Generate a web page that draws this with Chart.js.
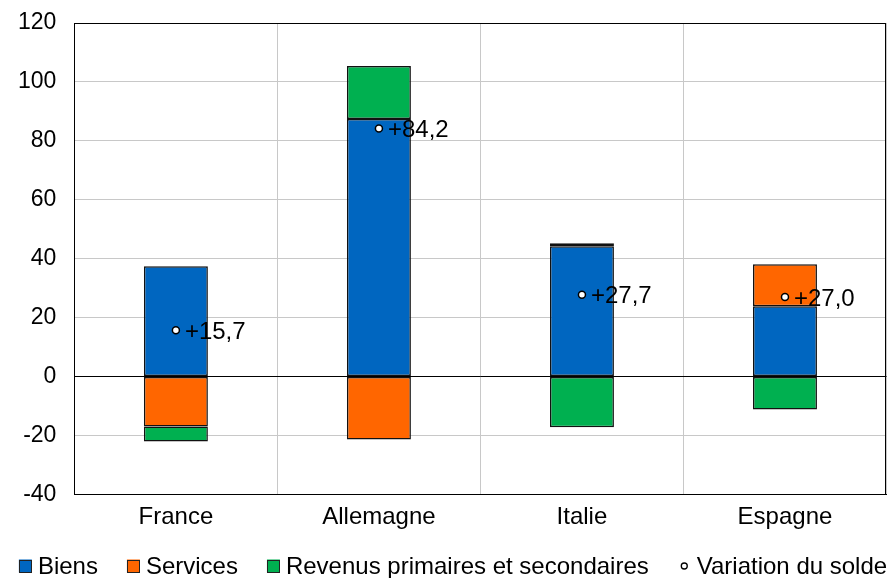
<!DOCTYPE html>
<html><head><meta charset="utf-8">
<script src="https://cdn.jsdelivr.net/npm/chart.js@4/dist/chart.umd.min.js"></script>
<style>html,body{margin:0;padding:0;background:#fff}#wrap{width:892px;height:578px}</style>
</head><body><div id="wrap"><canvas id="c" width="892" height="578"></canvas></div>
<script>
const categories = ["France", "Allemagne", "Italie", "Espagne"];
const biens = [37.4, 87.4, 44.2, 23.8];
const services = [-17.0, -21.4, 1.0, 14.3];
const revenus = [-5.1, 18.0, -17.3, -11.2];
const variation = [15.7, 84.2, 27.7, 27.0];
const variationLabels = ["+15,7", "+84,2", "+27,7", "+27,0"];
const yTicks = [-40, -20, 0, 20, 40, 60, 80, 100, 120];

const FONT = "'Liberation Sans', Arial, sans-serif";
const FS = 23;
const FS2 = 24;
const COLORS = ['#0066C0', '#FF6600', '#00B050'];

const labelPlugin = {
  id: 'pointLabels',
  afterDatasetsDraw(chart) {
    const meta = chart.getDatasetMeta(3);
    const ctx = chart.ctx;
    ctx.save();
    ctx.font = FS2 + "px " + FONT;
    ctx.fillStyle = "#000";
    ctx.textBaseline = "middle";
    ctx.textAlign = "left";
    meta.data.forEach((pt, i) => {
      ctx.fillText(variationLabels[i], pt.x + 9, pt.y + 2);
    });
    ctx.restore();
  }
};
const borderPlugin = {
  id: 'frame',
  afterDraw(chart) {
    const a = chart.chartArea, ctx = chart.ctx;
    ctx.save();
    ctx.strokeStyle = "#000"; ctx.lineWidth = 1;
    ctx.strokeRect(Math.round(a.left) + 0.5, Math.round(a.top) + 0.5, Math.round(a.right - a.left) - 1, Math.round(a.bottom - a.top));
    ctx.restore();
  }
};
// Legend drawn as real text, items taken from the chart's datasets
const legendPlugin = {
  id: 'customLegend',
  afterDraw(chart) {
    const ctx = chart.ctx;
    ctx.save();
    ctx.font = FS2 + "px " + FONT;
    ctx.textBaseline = "middle";
    ctx.textAlign = "left";
    const ds = chart.data.datasets;
    const box = 13, gapBoxText = 6, gapItem = 29;
    const widths = ds.map(d => box + gapBoxText + ctx.measureText(d.label).width);
    const total = widths.reduce((a, b) => a + b, 0) + gapItem * (ds.length - 1);
    let x = 453 - total / 2;
    const yc = 566;
    ds.forEach((d, i) => {
      if (i < 3) {
        ctx.fillStyle = COLORS[i];
        ctx.fillRect(x, yc - box / 2, box, box);
        ctx.strokeStyle = '#222'; ctx.lineWidth = 1;
        ctx.strokeRect(Math.round(x) + 0.5, Math.round(yc - box / 2) + 0.5, box - 1, box - 1);
      } else {
        ctx.beginPath(); ctx.arc(x + box / 2, yc, 3, 0, Math.PI * 2);
        ctx.fillStyle = '#fff'; ctx.fill();
        ctx.strokeStyle = '#000'; ctx.lineWidth = 1.3; ctx.stroke();
      }
      ctx.fillStyle = '#000';
      ctx.fillText(d.label, x + box + gapBoxText, yc + 1);
      x += widths[i] + gapItem;
    });
    ctx.restore();
  }
};

const barCommon = { stack: 's', borderColor: '#111', borderWidth: 1.5, borderSkipped: false, barPercentage: 0.315, categoryPercentage: 1 };

new Chart(document.getElementById('c'), {
  type: 'bar',
  data: {
    labels: categories,
    datasets: [
      Object.assign({ label: 'Biens', data: biens, backgroundColor: COLORS[0], order: 2 }, barCommon),
      Object.assign({ label: 'Services', data: services, backgroundColor: COLORS[1], order: 2 }, barCommon),
      Object.assign({ label: 'Revenus primaires et secondaires', data: revenus, backgroundColor: COLORS[2], order: 2 }, barCommon),
      { type: 'line', label: 'Variation du solde', data: variation, showLine: false, pointStyle: 'circle',
        pointRadius: 3.5, pointBackgroundColor: '#fff', pointBorderColor: '#000', pointBorderWidth: 1.5,
        backgroundColor: '#fff', borderColor: '#000', borderWidth: 1.5, order: 1 }
    ]
  },
  options: {
    responsive: false, animation: false,
    layout: { padding: { left: 0, right: 0, top: 23, bottom: 37 } },
    scales: {
      x: {
        stacked: true,
        grid: { offset: true, color: '#c8c8c8', drawTicks: false },
        border: { color: '#000' },
        ticks: { color: '#000', font: { family: FONT, size: FS2 }, padding: 9 }
      },
      y: {
        stacked: true, min: -40, max: 120,
        afterBuildTicks: (s) => { s.ticks = yTicks.map(v => ({ value: v })); },
        afterFit: (s) => { s.paddingTop = 0; s.paddingBottom = 0; },
        grid: { color: (c) => c.tick && c.tick.value === 0 ? '#000' : '#c8c8c8', drawTicks: false },
        border: { color: '#000' },
        ticks: { color: '#000', font: { family: FONT, size: FS }, padding: 18 }
      }
    },
    plugins: {
      legend: { display: false },
      tooltip: { enabled: false }
    }
  },
  plugins: [labelPlugin, borderPlugin, legendPlugin]
});
</script></body></html>
